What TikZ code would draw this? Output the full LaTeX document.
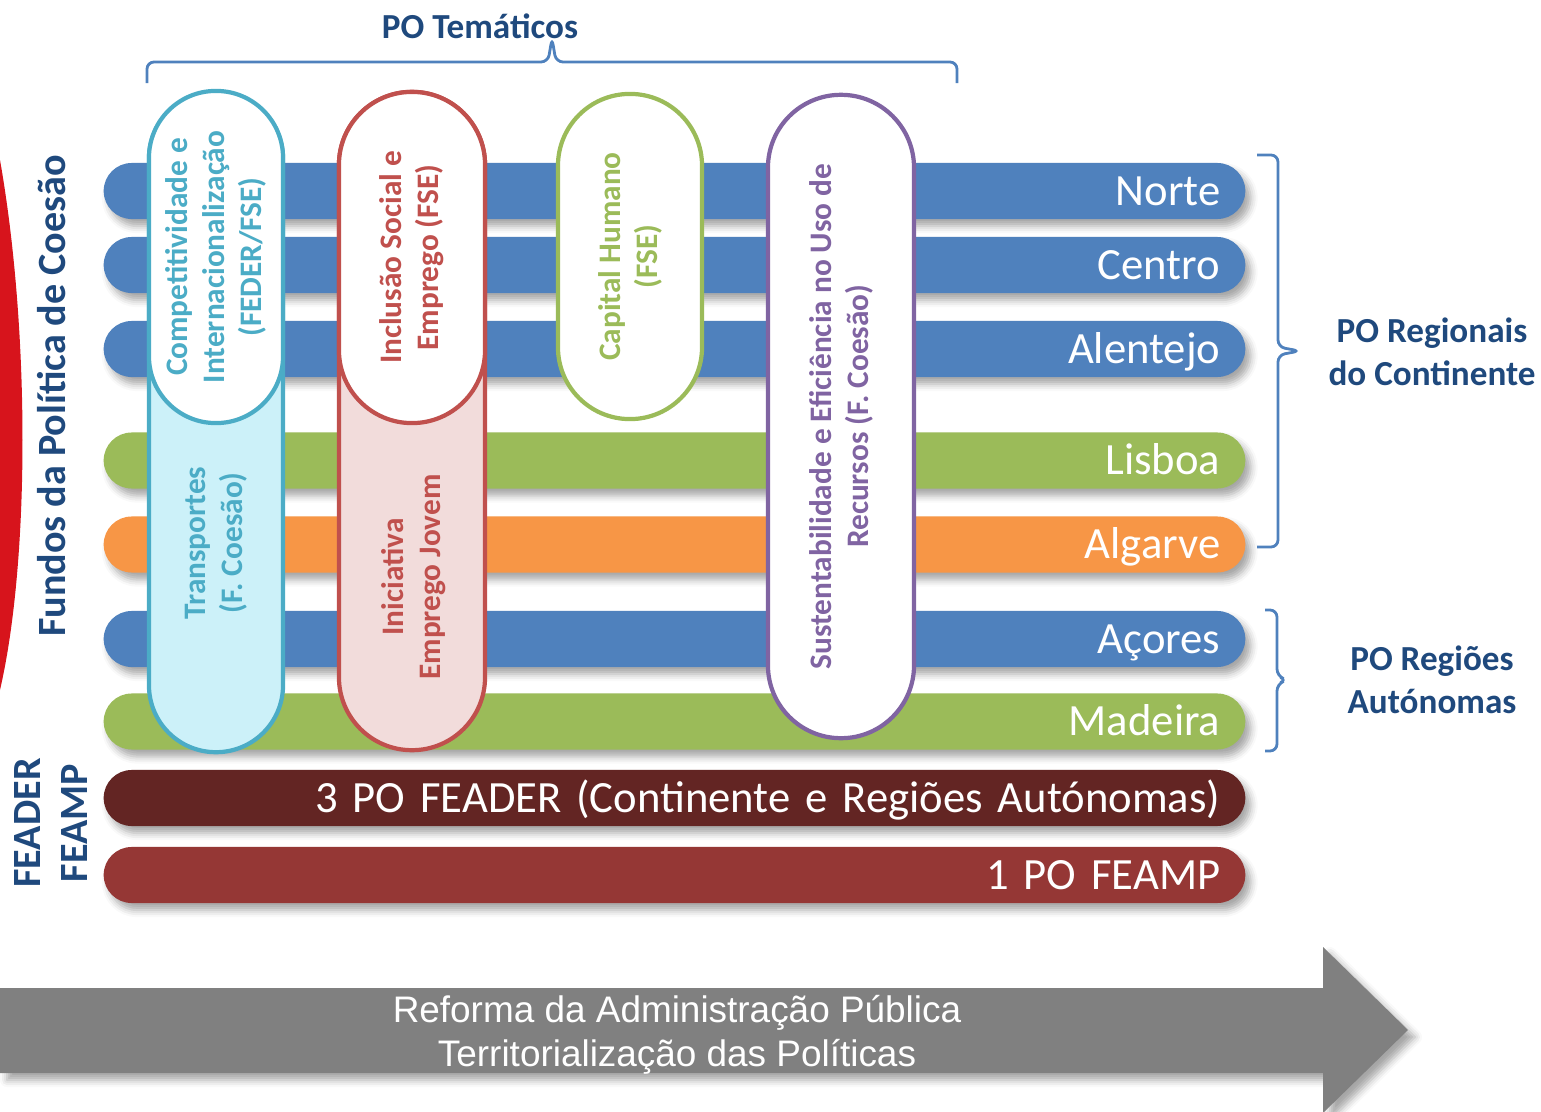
\documentclass[tikz,border=0pt]{standalone}
\usepackage{fontspec}
\setmainfont{Carlito}
\newfontfamily\arialfont{Liberation Sans}
\usepackage{tikz}
\usetikzlibrary{shadows.blur,positioning}

\definecolor{poblue}{HTML}{4F81BD}
\definecolor{pogreen}{HTML}{9BBB59}
\definecolor{poorange}{HTML}{F79646}
\definecolor{feaderred}{HTML}{632523}
\definecolor{feampred}{HTML}{953735}
\definecolor{titleblue}{HTML}{1F497D}
\definecolor{pocyan}{HTML}{4BACC6}
\definecolor{pored}{HTML}{C0504D}
\definecolor{popurple}{HTML}{8064A2}
\definecolor{lightcyan}{HTML}{CCF1F9}
\definecolor{lightpink}{HTML}{F2DCDB}
\definecolor{arrowgray}{HTML}{808080}
\definecolor{fundred}{HTML}{D7141C}

\tikzset{
  bar/.style={rectangle, rounded corners=0.28cm, minimum width=11.41cm, minimum height=0.56cm,
    inner xsep=0.25cm, inner ysep=0pt, text width=10.91cm, align=right, text=white,
    font=\fontsize{12.7}{15}\selectfont, text height=8.1pt, text depth=0pt,
    blur shadow={shadow xshift=1.5pt, shadow yshift=-2pt, shadow blur radius=2pt, shadow opacity=35}},
  pill/.style={rectangle, rotate=90, line width=1.2pt, inner sep=0pt, align=center,
    minimum height=#1, rounded corners=0.499*#1,
    font=\fontsize{8.9}{10.5}\selectfont\bfseries},
  pilltext/.style={rotate=90, align=center, font=\fontsize{8.9}{10.5}\selectfont\bfseries},
  bracket/.style={draw=poblue, line width=0.8pt, rounded corners=2pt},
  heading/.style={text=titleblue, align=center, font=\fontsize{10}{12.2}\selectfont\bfseries},
}

\begin{document}
\begin{tikzpicture}[x=0.01cm, y=-0.01cm]
\useasboundingbox (0,0) rectangle (1541,1112);

% faixa vermelha
\fill[fundred] (0,160) .. controls (30,330) and (30,560) .. (0,690) -- cycle;

% PO regionais
\node[bar, fill=poblue] (norte) at (674.5,191) {Norte};
\node[bar, fill=poblue] (centro) at (674.5,265) {Centro};
\node[bar, fill=poblue] (alentejo) at (674.5,349) {Alentejo};
\node[bar, fill=pogreen] (lisboa) at (674.5,460.5) {Lisboa};
\node[bar, fill=poorange] (algarve) at (674.5,544.5) {Algarve};
\node[bar, fill=poblue] (acores) at (674.5,639) {Açores};
\node[bar, fill=pogreen] (madeira) at (674.5,721.5) {Madeira};
\node[bar, fill=feaderred] (feader) at (674.5,798) {3 PO FEADER (Continente e Regiões Autónomas)};
\node[bar, fill=feampred] (feamp) at (674.5,875) {1 PO FEAMP};

% PO tematicos
\node[pill=1.34cm, draw=pocyan, fill=lightcyan, minimum width=6.60cm] (compet) at (216,422) {};
\node[pill=1.34cm, draw=pocyan, fill=white, text=pocyan, minimum width=3.32cm] (comptop) at (216,257) {Competitividade e\\Internacionalização\\(FEDER/FSE)};
\node[pilltext, text=pocyan] (transp) at (216,543) {Transportes\\(F. Coesão)};

\node[pill=1.46cm, draw=pored, fill=lightpink, minimum width=6.58cm] (inclusao) at (412,421) {};
\node[pill=1.46cm, draw=pored, fill=white, text=pored, minimum width=3.31cm] (incltop) at (412,257.5) {Inclusão Social e\\Emprego (FSE)};
\node[pilltext, text=pored] (iniciativa) at (414,577) {Iniciativa\\Emprego Jovem};

\node[pill=1.44cm, draw=pogreen, fill=white, text=pogreen, minimum width=3.25cm] (capital) at (630,256.5) {Capital Humano\\(FSE)};
\node[pill=1.46cm, draw=popurple, fill=white, text=popurple, minimum width=6.43cm] (sustent) at (841,416.5) {Sustentabilidade e Eficiência no Uso de\\Recursos (F. Coesão)};

% chavetas
\draw[bracket] (147,83) -- (147,62) -- (548,62) -- (552,38) -- (556,62) -- (957,62) -- (957,83);
\draw[bracket] (1257,155) -- (1278,155) -- (1278,347) -- (1300,351) -- (1278,355) -- (1278,547) -- (1257,547);
\draw[bracket] (1265,610) -- (1277,610) -- (1277,676) -- (1287,680) -- (1277,684) -- (1277,751) -- (1265,751);

\node[heading] (tematicos) at (480,26) {PO Temáticos};
\node[heading] (regionais) at (1432,352) {PO Regionais\\do Continente};
\node[heading] (autonomas) at (1432,680) {PO Regiões\\Autónomas};
\node[heading, rotate=90, font=\fontsize{11.4}{13.6}\selectfont\bfseries] (fundos) at (52,396) {Fundos da Política de Coesão};
\node[heading, rotate=90, font=\fontsize{11.4}{13.6}\selectfont\bfseries] (fundosagr) at (51,823) {FEADER\\FEAMP};

% seta
\fill[arrowgray, blur shadow={shadow xshift=2pt, shadow yshift=-2pt, shadow blur radius=2pt, shadow opacity=35}]
  (0,988) -- (1323,988) -- (1323,947) -- (1408,1030) -- (1323,1113) -- (1323,1073) -- (0,1073) -- cycle;
\node[text=white, align=center, font=\arialfont\fontsize{10.5}{12.5}\selectfont] (reforma) at (677,1035) {Reforma da Administração Pública\\Territorialização das Políticas};
\end{tikzpicture}
\end{document}
